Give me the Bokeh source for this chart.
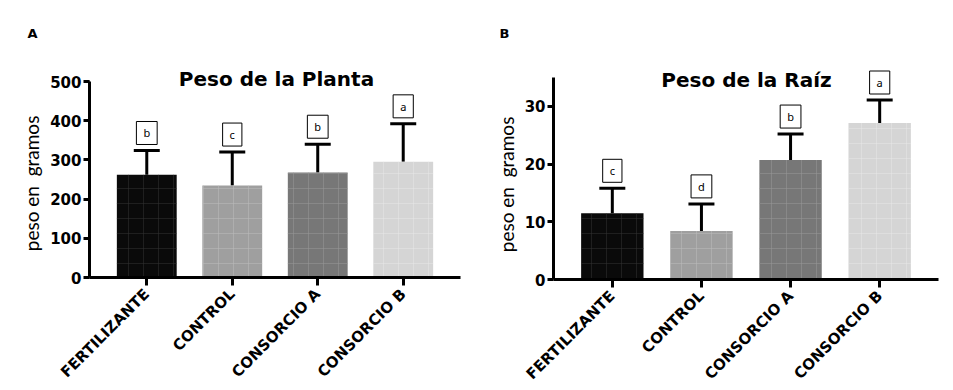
import math
from bokeh.plotting import figure
from bokeh.models import (ColumnDataSource, FactorRange, Range1d, Whisker, TeeHead,
                          Label, SingleIntervalTicker)
from bokeh.core.properties import value
from bokeh.layouts import row
from bokeh.embed import file_html
from bokeh.resources import INLINE

# ---------------- data ----------------
categories = ["FERTILIZANTE", "CONTROL", "CONSORCIO A", "CONSORCIO B"]
bar_colors = ["#0a0a0a", "#9f9f9f", "#777777", "#d5d5d5"]
hatch_colors = ["#333333", "#bdbdbd", "#9a9a9a", "#e8e8e8"]

planta_mean = [262, 235, 268, 295]
planta_sd = [62, 85, 72, 97]
planta_letters = ["b", "c", "b", "a"]

raiz_mean = [11.5, 8.4, 20.7, 27.1]
raiz_sd = [4.3, 4.7, 4.5, 4.0]
raiz_letters = ["c", "d", "b", "a"]

y_label = "peso en\u00a0 gramos"

BOLD = "DejaVu Sans"
NB = "\u00a0"


def make_panel(title, letter, means, sds, letters, axis_max, yint, minor,
               bl, fw, br, bt, axis_px, fh, bb, title_xy, letter_off, pad):
    src = ColumnDataSource(dict(
        cat=categories, mean=means,
        upper=[m + s for m, s in zip(means, sds)],
        letter=letters, color=bar_colors, hcolor=hatch_colors))
    # frame is taller than the axis so the title fits inside it
    y_end = axis_max * fh / axis_px
    p = figure(x_range=FactorRange(*categories, range_padding=pad),
               y_range=Range1d(0, y_end),
               frame_width=fw, frame_height=fh,
               min_border_left=bl, min_border_right=br,
               min_border_top=bt, min_border_bottom=bb,
               output_backend="svg", toolbar_location=None)
    p.outline_line_color = None
    p.xgrid.grid_line_color = None
    p.ygrid.grid_line_color = None

    p.vbar(x="cat", top="mean", width=0.70, source=src,
           fill_color="color", line_color=None,
           hatch_pattern="+", hatch_color="hcolor", hatch_scale=15,
           hatch_weight=1, hatch_alpha=0.5)

    w = Whisker(source=src, base="cat", lower="mean", upper="upper",
                dimension="height", line_width=3, line_color="black",
                upper_head=TeeHead(size=26, line_width=3, line_color="black"),
                lower_head=None)
    p.add_layout(w)

    p.text(x="cat", y="upper", text="letter", source=src,
           y_offset=-6, text_align="center", text_baseline="bottom",
           text_font_size="11px", text_font=value("Noto Sans"), text_color="black",
           background_fill_color="white", border_line_color="black",
           border_line_width=1, padding=(7, 4))

    # axes
    yax = p.yaxis[0]
    yax.bounds = (0, axis_max)
    yax.ticker = SingleIntervalTicker(interval=yint, num_minor_ticks=minor)
    yax.axis_line_width = 3
    yax.major_tick_line_width = 3
    yax.major_tick_out = 6
    yax.major_tick_in = 0
    yax.minor_tick_line_width = 2
    yax.minor_tick_out = 5 if minor else 0
    yax.minor_tick_in = 0
    yax.major_label_text_font = BOLD
    yax.major_label_text_font_style = "bold"
    yax.major_label_text_font_size = "15px"
    yax.major_label_text_color = "black"
    yax.major_label_standoff = 2
    # trailing no-break spaces centre the label on the axis line, not the frame
    yax.axis_label = y_label + NB * 8
    yax.axis_label_text_font = "Lato"
    yax.axis_label_text_font_style = "normal"
    yax.axis_label_text_font_size = "19px"
    yax.axis_label_text_color = "black"
    yax.axis_label_standoff = 4

    xax = p.xaxis[0]
    xax.axis_line_width = 3
    xax.major_tick_line_width = 3
    xax.major_tick_out = 8
    xax.major_tick_in = 0
    xax.minor_tick_line_color = None
    xax.major_label_orientation = math.pi / 4
    xax.major_label_text_font = BOLD
    xax.major_label_text_font_style = "bold"
    xax.major_label_text_font_size = "15px"
    xax.major_label_text_color = "black"
    xax.major_label_standoff = 6

    p.add_layout(Label(x=title_xy[0], y=title_xy[1], x_units="screen", y_units="screen",
                       text=title, text_font=BOLD, text_font_style="bold",
                       text_font_size="20px", text_align="center",
                       text_baseline="middle", text_color="black"))

    p.title.text = letter
    p.title.align = "left"
    p.title.offset = letter_off
    p.title.text_font = BOLD
    p.title.text_font_style = "bold"
    p.title.text_font_size = "13px"
    p.title.text_color = "black"
    p.title.standoff = 20
    return p


pA = make_panel("Peso de la Planta", "A", planta_mean, planta_sd, planta_letters,
                500, 100, 1, bl=89, fw=371, br=18, bt=50, axis_px=196, fh=227, bb=103,
                title_xy=(187, 199), letter_off=-62, pad=0.085)
pB = make_panel("Peso de la Raíz", "B", raiz_mean, raiz_sd, raiz_letters,
                35, 10, 0, bl=75, fw=385, br=7, bt=50, axis_px=202, fh=229, bb=101,
                title_xy=(193, 200), letter_off=-54, pad=0.08)

layout = row(pA, pB)
open("out.html", "w").write(file_html(layout, INLINE))
